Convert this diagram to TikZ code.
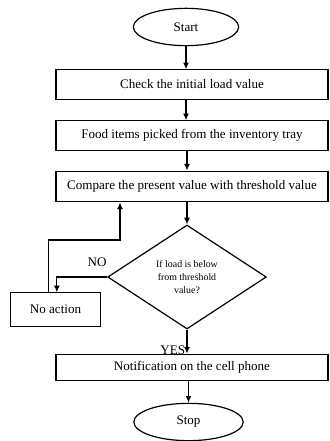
\documentclass[tikz,border=0pt]{standalone}
\usepackage{fontspec}
\setmainfont{Liberation Serif}
\usetikzlibrary{shapes.geometric,arrows.meta}

\begin{document}
\begin{tikzpicture}[x=0.75pt,y=0.75pt,yscale=-1,xscale=1,
	every node/.style={font=\fontsize{9.8}{12}\selectfont},
	term/.style={draw,line width=0.9pt,ellipse,minimum width=79pt,minimum height=28pt,inner sep=0pt},
	proc/.style={draw,line width=0.9pt,rectangle,minimum width=204pt,minimum height=22pt,inner sep=0pt},
	dec/.style={draw,line width=0.9pt,diamond,aspect=1.53,minimum width=119pt,minimum height=78pt,inner sep=0pt,align=center,font=\fontsize{7.4}{10}\selectfont},
	flow/.style={line width=0.9pt,-{Latex[length=5pt,width=4.5pt]}}]
			\useasboundingbox (0,0) rectangle (329,441);
			\node [term] (start) at (186,27) {Start};
			\node [proc] (check) at (192,84.5) {Check the initial load value};
			\node [proc] (pick) at (192,135.5) {Food items picked from the inventory tray};
			\node [proc,minimum height=23pt] (cmp) at (192,186.5) {Compare the present value with threshold value};
			\node [dec] (dia) at (187,277) {If load is below\\from threshold\\value?};
			\node [draw,line width=0.9pt,minimum width=67pt,minimum height=25pt,inner sep=0pt] (noact) at (55.5,309.5) {No action};
			\node [proc,minimum height=20pt] (notif) at (192,367.5) {Notification on the cell phone};
			\node [term,minimum width=82pt] (stop) at (188.5,422) {Stop};
			\coordinate (ret) at (120,240);
			\draw [flow] (start.south) -- (start.south |- check.north);
			\draw [flow] (start.south |- check.south) -- (start.south |- pick.north);
			\draw [flow] (dia.north |- pick.south) -- (dia.north |- cmp.north);
			\draw [flow] (dia.north |- cmp.south) -- (dia.north);
			\draw [flow] (dia.west) -| node [pos=0.1,above=4pt] {NO} ([xshift=1pt]noact.north);
			\draw [flow] ([xshift=-5.5pt]noact.north) |- (ret) -- (ret |- cmp.south);
			\draw [flow] (dia.south) -- node [pos=0.85,anchor=east,inner sep=1pt] {YES} (dia.south |- notif.north);
			\draw [flow] (stop.north |- notif.south) -- (stop.north);
\end{tikzpicture}
\end{document}
